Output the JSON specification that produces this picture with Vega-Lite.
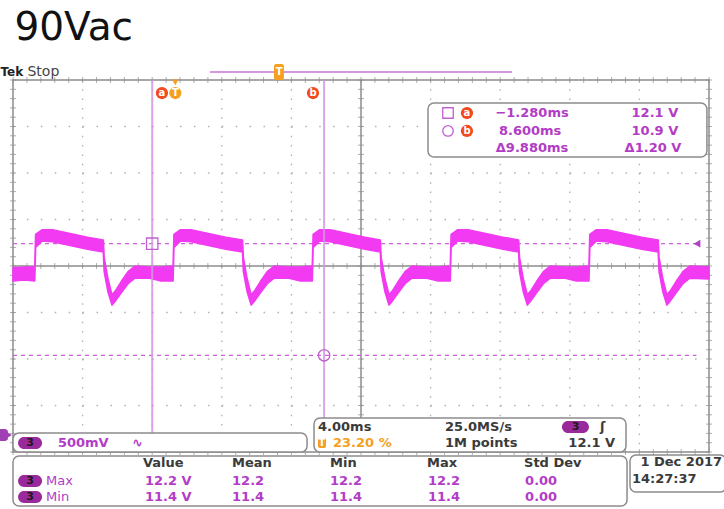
{
  "$schema": "https://vega.github.io/schema/vega-lite/v6.json",
  "width": 724,
  "height": 509,
  "autosize": {"type": "none"},
  "padding": 0,
  "background": "white",
  "config": {"view": {"stroke": null}},
  "datasets": {
    "wave": [
      {"t": -9.28, "hi": 11.84, "lo": 11.70}, {"t": -8.6, "hi": 11.85, "lo": 11.71}, {"t": -8.03, "hi": 11.85, "lo": 11.70},
      {"t": -7.98, "hi": 12.20, "lo": 12.06}, {"t": -7.6, "hi": 12.25, "lo": 12.13}, {"t": -7.0, "hi": 12.25, "lo": 12.12}, {"t": -6.0, "hi": 12.21, "lo": 12.08}, {"t": -5.0, "hi": 12.17, "lo": 12.04}, {"t": -4.09, "hi": 12.14, "lo": 12.01},
      {"t": -4.04, "hi": 11.95, "lo": 11.80}, {"t": -3.82, "hi": 11.72, "lo": 11.58}, {"t": -3.59, "hi": 11.55, "lo": 11.44}, {"t": -3.37, "hi": 11.60, "lo": 11.49}, {"t": -3.07, "hi": 11.69, "lo": 11.57}, {"t": -2.67, "hi": 11.80, "lo": 11.67}, {"t": -2.27, "hi": 11.86, "lo": 11.73}, {"t": -1.47, "hi": 11.85, "lo": 11.73}, {"t": -0.77, "hi": 11.85, "lo": 11.70}, {"t": -0.08, "hi": 11.86, "lo": 11.70},
      {"t": -0.03, "hi": 12.20, "lo": 12.06}, {"t": 0.35, "hi": 12.25, "lo": 12.13}, {"t": 0.95, "hi": 12.25, "lo": 12.12}, {"t": 1.95, "hi": 12.21, "lo": 12.08}, {"t": 2.95, "hi": 12.17, "lo": 12.04}, {"t": 3.91, "hi": 12.14, "lo": 12.01},
      {"t": 3.96, "hi": 11.95, "lo": 11.80}, {"t": 4.18, "hi": 11.72, "lo": 11.58}, {"t": 4.41, "hi": 11.55, "lo": 11.44}, {"t": 4.63, "hi": 11.60, "lo": 11.49}, {"t": 4.93, "hi": 11.69, "lo": 11.57}, {"t": 5.33, "hi": 11.80, "lo": 11.67}, {"t": 5.73, "hi": 11.86, "lo": 11.73}, {"t": 6.53, "hi": 11.85, "lo": 11.73}, {"t": 7.23, "hi": 11.85, "lo": 11.70}, {"t": 7.92, "hi": 11.86, "lo": 11.70},
      {"t": 7.97, "hi": 12.20, "lo": 12.06}, {"t": 8.35, "hi": 12.25, "lo": 12.13}, {"t": 8.95, "hi": 12.25, "lo": 12.12}, {"t": 9.95, "hi": 12.21, "lo": 12.08}, {"t": 10.95, "hi": 12.17, "lo": 12.04}, {"t": 11.83, "hi": 12.14, "lo": 12.01},
      {"t": 11.88, "hi": 11.95, "lo": 11.80}, {"t": 12.10, "hi": 11.72, "lo": 11.58}, {"t": 12.33, "hi": 11.55, "lo": 11.44}, {"t": 12.55, "hi": 11.60, "lo": 11.49}, {"t": 12.85, "hi": 11.69, "lo": 11.57}, {"t": 13.25, "hi": 11.80, "lo": 11.67}, {"t": 13.65, "hi": 11.86, "lo": 11.73}, {"t": 14.45, "hi": 11.85, "lo": 11.73}, {"t": 15.15, "hi": 11.85, "lo": 11.70}, {"t": 15.85, "hi": 11.86, "lo": 11.70},
      {"t": 15.90, "hi": 12.20, "lo": 12.06}, {"t": 16.28, "hi": 12.25, "lo": 12.13}, {"t": 16.88, "hi": 12.25, "lo": 12.12}, {"t": 17.88, "hi": 12.21, "lo": 12.08}, {"t": 18.88, "hi": 12.17, "lo": 12.04}, {"t": 19.78, "hi": 12.14, "lo": 12.01},
      {"t": 19.83, "hi": 11.95, "lo": 11.80}, {"t": 20.05, "hi": 11.72, "lo": 11.58}, {"t": 20.28, "hi": 11.55, "lo": 11.44}, {"t": 20.50, "hi": 11.60, "lo": 11.49}, {"t": 20.80, "hi": 11.69, "lo": 11.57}, {"t": 21.20, "hi": 11.80, "lo": 11.67}, {"t": 21.60, "hi": 11.86, "lo": 11.73}, {"t": 22.40, "hi": 11.85, "lo": 11.73}, {"t": 23.10, "hi": 11.85, "lo": 11.70}, {"t": 23.82, "hi": 11.86, "lo": 11.70},
      {"t": 23.87, "hi": 12.20, "lo": 12.06}, {"t": 24.25, "hi": 12.25, "lo": 12.13}, {"t": 24.85, "hi": 12.25, "lo": 12.12}, {"t": 25.85, "hi": 12.21, "lo": 12.08}, {"t": 26.85, "hi": 12.17, "lo": 12.04}, {"t": 27.80, "hi": 12.14, "lo": 12.01},
      {"t": 27.85, "hi": 11.95, "lo": 11.80}, {"t": 28.07, "hi": 11.72, "lo": 11.58}, {"t": 28.30, "hi": 11.55, "lo": 11.44}, {"t": 28.52, "hi": 11.60, "lo": 11.49}, {"t": 28.82, "hi": 11.69, "lo": 11.57}, {"t": 29.22, "hi": 11.80, "lo": 11.67}, {"t": 29.62, "hi": 11.86, "lo": 11.73}, {"t": 30.72, "hi": 11.85, "lo": 11.72}
    ],
    "xticks": [
      {"t": -9.28}, {"t": -8.48}, {"t": -7.68}, {"t": -6.88}, {"t": -6.08}, {"t": -5.28}, {"t": -4.48}, {"t": -3.68}, {"t": -2.88}, {"t": -2.08},
      {"t": -1.28}, {"t": -0.48}, {"t": 0.32}, {"t": 1.12}, {"t": 1.92}, {"t": 2.72}, {"t": 3.52}, {"t": 4.32}, {"t": 5.12}, {"t": 5.92},
      {"t": 6.72}, {"t": 7.52}, {"t": 8.32}, {"t": 9.12}, {"t": 9.92}, {"t": 10.72}, {"t": 11.52}, {"t": 12.32}, {"t": 13.12}, {"t": 13.92},
      {"t": 14.72}, {"t": 15.52}, {"t": 16.32}, {"t": 17.12}, {"t": 17.92}, {"t": 18.72}, {"t": 19.52}, {"t": 20.32}, {"t": 21.12}, {"t": 21.92},
      {"t": 22.72}, {"t": 23.52}, {"t": 24.32}, {"t": 25.12}, {"t": 25.92}, {"t": 26.72}, {"t": 27.52}, {"t": 28.32}, {"t": 29.12}, {"t": 29.92}, {"t": 30.72}
    ],
    "yticks": [
      {"v": 9.86}, {"v": 9.96}, {"v": 10.06}, {"v": 10.16}, {"v": 10.26}, {"v": 10.36}, {"v": 10.46}, {"v": 10.56}, {"v": 10.66}, {"v": 10.76},
      {"v": 10.86}, {"v": 10.96}, {"v": 11.06}, {"v": 11.16}, {"v": 11.26}, {"v": 11.36}, {"v": 11.46}, {"v": 11.56}, {"v": 11.66}, {"v": 11.76},
      {"v": 11.86}, {"v": 11.96}, {"v": 12.06}, {"v": 12.16}, {"v": 12.26}, {"v": 12.36}, {"v": 12.46}, {"v": 12.56}, {"v": 12.66}, {"v": 12.76},
      {"v": 12.86}, {"v": 12.96}, {"v": 13.06}, {"v": 13.16}, {"v": 13.26}, {"v": 13.36}, {"v": 13.46}, {"v": 13.56}, {"v": 13.66}, {"v": 13.76}, {"v": 13.86}
    ],
    "vgrid": [{"t": -5.28}, {"t": -1.28}, {"t": 2.72}, {"t": 6.72}, {"t": 14.72}, {"t": 18.72}, {"t": 22.72}, {"t": 26.72}],
    "hgrid": [{"v": 10.36}, {"v": 10.86}, {"v": 11.36}, {"v": 12.36}, {"v": 12.86}, {"v": 13.36}],
    "boxes": [
      {"t": 14.57, "t2": 30.60, "v": 13.613, "v2": 13.032},
      {"t": -9.28, "t2": 7.62, "v": 10.064, "v2": 9.860},
      {"t": 8.02, "t2": 25.95, "v": 10.226, "v2": 9.860},
      {"t": -9.28, "t2": 26.01, "v": 9.817, "v2": 9.279},
      {"t": 26.18, "t2": 31.70, "v": 9.828, "v2": 9.430}
    ],
    "pills": [
      {"t": -8.99, "t2": -7.61, "v": 10.021, "v2": 9.892},
      {"t": -8.99, "t2": -7.61, "v": 9.613, "v2": 9.484},
      {"t": -8.99, "t2": -7.61, "v": 9.441, "v2": 9.312},
      {"t": 22.27, "t2": 23.82, "v": 10.193, "v2": 10.064}
    ],
    "pillText": [
      {"t": -8.30, "v": 9.957, "s": "3"}, {"t": -8.30, "v": 9.548, "s": "3"}, {"t": -8.30, "v": 9.376, "s": "3"}, {"t": 23.05, "v": 10.129, "s": "3"}
    ],
    "orangeRects": [
      {"t": 5.72, "t2": 6.29, "v": 14.032, "v2": 13.86},
      {"t": 8.25, "t2": 8.71, "v": 10.011, "v2": 9.903}
    ],
    "whiteText": [
      {"t": -0.72, "v": 13.72, "s": "a"}, {"t": 7.96, "v": 13.72, "s": "b"}, {"t": 16.81, "v": 13.505, "s": "a"}, {"t": 16.81, "v": 13.312, "s": "b"},
      {"t": 0.05, "v": 13.72, "s": "T"}, {"t": 6.01, "v": 13.946, "s": "T"}, {"t": 8.48, "v": 9.957, "s": "T"}
    ],
    "grayText": [
      {"t": 8.25, "v": 10.129, "s": "4.00ms"}, {"t": 15.55, "v": 10.129, "s": "25.0MS/s"}, {"t": 15.55, "v": 9.957, "s": "1M points"},
      {"t": -1.81, "v": 9.742, "s": "Value"}, {"t": 3.31, "v": 9.742, "s": "Mean"}, {"t": 8.94, "v": 9.742, "s": "Min"}, {"t": 14.51, "v": 9.742, "s": "Max"}, {"t": 20.09, "v": 9.742, "s": "Std Dev"},
      {"t": 26.78, "v": 9.75, "s": "1 Dec 2017"}, {"t": 26.29, "v": 9.570, "s": "14:27:37"}, {"t": 24.45, "v": 10.129, "s": "ʃ"}
    ],
    "purpleText": [
      {"t": -6.70, "v": 9.957, "s": "500mV"}, {"t": -2.44, "v": 9.957, "s": "∿"},
      {"t": -1.70, "v": 9.548, "s": "12.2 V"}, {"t": -1.70, "v": 9.376, "s": "11.4 V"},
      {"t": 3.31, "v": 9.548, "s": "12.2"}, {"t": 3.31, "v": 9.376, "s": "11.4"},
      {"t": 8.94, "v": 9.548, "s": "12.2"}, {"t": 8.94, "v": 9.376, "s": "11.4"},
      {"t": 14.57, "v": 9.548, "s": "12.2"}, {"t": 14.57, "v": 9.376, "s": "11.4"},
      {"t": 20.15, "v": 9.548, "s": "0.00"}, {"t": 20.15, "v": 9.376, "s": "0.00"}
    ],
    "purpleLabels": [
      {"t": -7.38, "v": 9.548, "s": "Max"}, {"t": -7.38, "v": 9.376, "s": "Min"}
    ],
    "cursorText": [
      {"t": 20.55, "v": 13.505, "s": "−1.280ms"}, {"t": 20.44, "v": 13.312, "s": "8.600ms"}, {"t": 20.55, "v": 13.129, "s": "Δ9.880ms"},
      {"t": 27.61, "v": 13.505, "s": "12.1 V"}, {"t": 27.61, "v": 13.312, "s": "10.9 V"}, {"t": 27.50, "v": 13.129, "s": "Δ1.20 V"}
    ]
  },
  "layer": [
    {
      "data": {"name": "hgrid"},
      "mark": {"type": "rule", "color": "#b0b0b0", "strokeWidth": 1.3, "strokeDash": [1.5, 12.42]},
      "encoding": {
        "x": {"datum": -9.28, "type": "quantitative", "scale": {"domain": [-9.28, 30.72], "range": [13, 709], "nice": false, "zero": false}, "axis": null},
        "x2": {"datum": 30.72},
        "y": {"field": "v", "type": "quantitative", "scale": {"domain": [9.86, 13.86], "range": [452, 80], "nice": false, "zero": false}, "axis": null}
      }
    },
    {
      "data": {"name": "vgrid"},
      "mark": {"type": "rule", "color": "#b0b0b0", "strokeWidth": 1.3, "strokeDash": [1.5, 7.8]},
      "encoding": {
        "x": {"field": "t", "type": "quantitative", "scale": {"domain": [-9.28, 30.72], "range": [13, 709], "nice": false, "zero": false}, "axis": null},
        "y": {"datum": 13.86, "type": "quantitative", "scale": {"domain": [9.86, 13.86], "range": [452, 80], "nice": false, "zero": false}, "axis": null},
        "y2": {"datum": 9.86}
      }
    },
    {
      "data": {"values": [{}]},
      "mark": {"type": "rule", "color": "#8c8c8c", "strokeWidth": 1.5},
      "encoding": {
        "x": {"datum": 10.72, "type": "quantitative", "scale": {"domain": [-9.28, 30.72], "range": [13, 709], "nice": false, "zero": false}, "axis": null},
        "y": {"datum": 13.86, "type": "quantitative", "scale": {"domain": [9.86, 13.86], "range": [452, 80], "nice": false, "zero": false}, "axis": null},
        "y2": {"datum": 9.86}
      }
    },
    {
      "data": {"values": [{}]},
      "mark": {"type": "rule", "color": "#8c8c8c", "strokeWidth": 1.5},
      "encoding": {
        "x": {"datum": -9.28, "type": "quantitative", "scale": {"domain": [-9.28, 30.72], "range": [13, 709], "nice": false, "zero": false}, "axis": null},
        "x2": {"datum": 30.72},
        "y": {"datum": 11.86, "type": "quantitative", "scale": {"domain": [9.86, 13.86], "range": [452, 80], "nice": false, "zero": false}, "axis": null}
      }
    },
    {
      "data": {"values": [{}]},
      "mark": {"type": "rect", "fill": null, "fillOpacity": 0, "stroke": "#8c8c8c", "strokeWidth": 1.5},
      "encoding": {
        "x": {"datum": -9.28, "type": "quantitative", "scale": {"domain": [-9.28, 30.72], "range": [13, 709], "nice": false, "zero": false}, "axis": null},
        "x2": {"datum": 30.72},
        "y": {"datum": 13.86, "type": "quantitative", "scale": {"domain": [9.86, 13.86], "range": [452, 80], "nice": false, "zero": false}, "axis": null},
        "y2": {"datum": 9.86}
      }
    },
    {
      "data": {"name": "xticks"},
      "layer": [
        {"mark": {"type": "tick", "orient": "vertical", "size": 6, "thickness": 1, "color": "#8c8c8c"},
         "encoding": {"y": {"datum": 11.86, "type": "quantitative", "scale": {"domain": [9.86, 13.86], "range": [452, 80], "nice": false, "zero": false}, "axis": null}}},
        {"mark": {"type": "tick", "orient": "vertical", "size": 6, "thickness": 1, "color": "#8c8c8c"},
         "encoding": {"y": {"datum": 13.86, "type": "quantitative", "scale": {"domain": [9.86, 13.86], "range": [452, 80], "nice": false, "zero": false}, "axis": null}}},
        {"mark": {"type": "tick", "orient": "vertical", "size": 6, "thickness": 1, "color": "#8c8c8c"},
         "encoding": {"y": {"datum": 9.86, "type": "quantitative", "scale": {"domain": [9.86, 13.86], "range": [452, 80], "nice": false, "zero": false}, "axis": null}}}
      ],
      "encoding": {
        "x": {"field": "t", "type": "quantitative", "scale": {"domain": [-9.28, 30.72], "range": [13, 709], "nice": false, "zero": false}, "axis": null}
      }
    },
    {
      "data": {"name": "yticks"},
      "layer": [
        {"mark": {"type": "tick", "orient": "horizontal", "size": 6, "thickness": 1, "color": "#8c8c8c"},
         "encoding": {"x": {"datum": 10.72, "type": "quantitative", "scale": {"domain": [-9.28, 30.72], "range": [13, 709], "nice": false, "zero": false}, "axis": null}}},
        {"mark": {"type": "tick", "orient": "horizontal", "size": 6, "thickness": 1, "color": "#8c8c8c"},
         "encoding": {"x": {"datum": -9.28, "type": "quantitative", "scale": {"domain": [-9.28, 30.72], "range": [13, 709], "nice": false, "zero": false}, "axis": null}}},
        {"mark": {"type": "tick", "orient": "horizontal", "size": 6, "thickness": 1, "color": "#8c8c8c"},
         "encoding": {"x": {"datum": 30.72, "type": "quantitative", "scale": {"domain": [-9.28, 30.72], "range": [13, 709], "nice": false, "zero": false}, "axis": null}}}
      ],
      "encoding": {
        "y": {"field": "v", "type": "quantitative", "scale": {"domain": [9.86, 13.86], "range": [452, 80], "nice": false, "zero": false}, "axis": null}
      }
    },
    {
      "data": {"values": [{"v": 12.1}, {"v": 10.9}]},
      "mark": {"type": "rule", "color": "#c964d9", "strokeWidth": 1.3, "strokeDash": [4, 4]},
      "encoding": {
        "x": {"datum": -9.28, "type": "quantitative", "scale": {"domain": [-9.28, 30.72], "range": [13, 709], "nice": false, "zero": false}, "axis": null},
        "x2": {"datum": 30.0},
        "y": {"field": "v", "type": "quantitative", "scale": {"domain": [9.86, 13.86], "range": [452, 80], "nice": false, "zero": false}, "axis": null}
      }
    },
    {
      "data": {"name": "wave"},
      "mark": {"type": "area", "color": "#f23af2", "stroke": "#f23af2", "strokeWidth": 1.6, "strokeJoin": "round", "opacity": 1},
      "encoding": {
        "x": {"field": "t", "type": "quantitative", "scale": {"domain": [-9.28, 30.72], "range": [13, 709], "nice": false, "zero": false}, "axis": null},
        "y": {"field": "hi", "type": "quantitative", "scale": {"domain": [9.86, 13.86], "range": [452, 80], "nice": false, "zero": false}, "axis": null},
        "y2": {"field": "lo"}
      }
    },
    {
      "data": {"values": [{"t": -1.28}, {"t": 8.6}]},
      "mark": {"type": "rule", "color": "#d497e0", "strokeWidth": 2, "opacity": 0.85},
      "encoding": {
        "x": {"field": "t", "type": "quantitative", "scale": {"domain": [-9.28, 30.72], "range": [13, 709], "nice": false, "zero": false}, "axis": null},
        "y": {"datum": 13.86, "type": "quantitative", "scale": {"domain": [9.86, 13.86], "range": [452, 80], "nice": false, "zero": false}, "axis": null},
        "y2": {"datum": 9.86}
      }
    },
    {
      "data": {"values": [{"t": -1.28, "v": 12.1, "k": "square"}, {"t": 8.6, "v": 10.9, "k": "circle"}]},
      "mark": {"type": "point", "filled": false, "size": 130, "stroke": "#c060d0", "strokeWidth": 1.3, "opacity": 1},
      "encoding": {
        "x": {"field": "t", "type": "quantitative", "scale": {"domain": [-9.28, 30.72], "range": [13, 709], "nice": false, "zero": false}, "axis": null},
        "y": {"field": "v", "type": "quantitative", "scale": {"domain": [9.86, 13.86], "range": [452, 80], "nice": false, "zero": false}, "axis": null},
        "shape": {"field": "k", "type": "nominal", "scale": {"domain": ["square", "circle"], "range": ["square", "circle"]}, "legend": null}
      }
    },
    {
      "data": {"values": [{"t": 30.03, "v": 12.1}]},
      "mark": {"type": "point", "shape": "triangle-left", "filled": true, "size": 60, "color": "#b040c8", "opacity": 1},
      "encoding": {
        "x": {"field": "t", "type": "quantitative", "scale": {"domain": [-9.28, 30.72], "range": [13, 709], "nice": false, "zero": false}, "axis": null},
        "y": {"field": "v", "type": "quantitative", "scale": {"domain": [9.86, 13.86], "range": [452, 80], "nice": false, "zero": false}, "axis": null}
      }
    },
    {
      "data": {"values": [{"t": 2.04, "t2": 19.40, "v": 13.946}]},
      "mark": {"type": "rule", "color": "#d497e0", "strokeWidth": 2},
      "encoding": {
        "x": {"field": "t", "type": "quantitative", "scale": {"domain": [-9.28, 30.72], "range": [13, 709], "nice": false, "zero": false}, "axis": null},
        "x2": {"field": "t2"},
        "y": {"field": "v", "type": "quantitative", "scale": {"domain": [9.86, 13.86], "range": [452, 80], "nice": false, "zero": false}, "axis": null}
      }
    },
    {
      "data": {"name": "boxes"},
      "mark": {"type": "rect", "fill": "white", "stroke": "#8c8c8c", "strokeWidth": 1.5, "cornerRadius": 6},
      "encoding": {
        "x": {"field": "t", "type": "quantitative", "scale": {"domain": [-9.28, 30.72], "range": [13, 709], "nice": false, "zero": false}, "axis": null},
        "x2": {"field": "t2"},
        "y": {"field": "v", "type": "quantitative", "scale": {"domain": [9.86, 13.86], "range": [452, 80], "nice": false, "zero": false}, "axis": null},
        "y2": {"field": "v2"}
      }
    },
    {
      "data": {"values": [{"t": 15.72, "v": 13.505, "k": "square"}, {"t": 15.72, "v": 13.312, "k": "circle"}]},
      "mark": {"type": "point", "filled": false, "size": 110, "stroke": "#c060d0", "strokeWidth": 1.3, "opacity": 1},
      "encoding": {
        "x": {"field": "t", "type": "quantitative", "scale": {"domain": [-9.28, 30.72], "range": [13, 709], "nice": false, "zero": false}, "axis": null},
        "y": {"field": "v", "type": "quantitative", "scale": {"domain": [9.86, 13.86], "range": [452, 80], "nice": false, "zero": false}, "axis": null},
        "shape": {"field": "k", "type": "nominal", "scale": {"domain": ["square", "circle"], "range": ["square", "circle"]}, "legend": null}
      }
    },
    {
      "data": {"name": "pills"},
      "mark": {"type": "rect", "fill": "#9a2a9c", "cornerRadius": 6},
      "encoding": {
        "x": {"field": "t", "type": "quantitative", "scale": {"domain": [-9.28, 30.72], "range": [13, 709], "nice": false, "zero": false}, "axis": null},
        "x2": {"field": "t2"},
        "y": {"field": "v", "type": "quantitative", "scale": {"domain": [9.86, 13.86], "range": [452, 80], "nice": false, "zero": false}, "axis": null},
        "y2": {"field": "v2"}
      }
    },
    {
      "data": {"values": [{"t": -10.14, "t2": -9.57, "v": 10.107, "v2": 9.978}]},
      "mark": {"type": "rect", "fill": "#a040b4", "cornerRadius": 3},
      "encoding": {
        "x": {"field": "t", "type": "quantitative", "scale": {"domain": [-9.28, 30.72], "range": [13, 709], "nice": false, "zero": false}, "axis": null},
        "x2": {"field": "t2"},
        "y": {"field": "v", "type": "quantitative", "scale": {"domain": [9.86, 13.86], "range": [452, 80], "nice": false, "zero": false}, "axis": null},
        "y2": {"field": "v2"}
      }
    },
    {
      "data": {"values": [{"t": -9.5, "v": 10.043}]},
      "mark": {"type": "point", "shape": "triangle-right", "filled": true, "size": 40, "color": "#a040b4", "opacity": 1},
      "encoding": {
        "x": {"field": "t", "type": "quantitative", "scale": {"domain": [-9.28, 30.72], "range": [13, 709], "nice": false, "zero": false}, "axis": null},
        "y": {"field": "v", "type": "quantitative", "scale": {"domain": [9.86, 13.86], "range": [452, 80], "nice": false, "zero": false}, "axis": null}
      }
    },
    {
      "data": {"name": "orangeRects"},
      "mark": {"type": "rect", "fill": "#f5a020", "cornerRadius": 2},
      "encoding": {
        "x": {"field": "t", "type": "quantitative", "scale": {"domain": [-9.28, 30.72], "range": [13, 709], "nice": false, "zero": false}, "axis": null},
        "x2": {"field": "t2"},
        "y": {"field": "v", "type": "quantitative", "scale": {"domain": [9.86, 13.86], "range": [452, 80], "nice": false, "zero": false}, "axis": null},
        "y2": {"field": "v2"}
      }
    },
    {
      "data": {"values": [{"t": 0.05, "v": 13.835}]},
      "mark": {"type": "point", "shape": "triangle-down", "filled": true, "size": 45, "color": "#f5a020", "opacity": 1},
      "encoding": {
        "x": {"field": "t", "type": "quantitative", "scale": {"domain": [-9.28, 30.72], "range": [13, 709], "nice": false, "zero": false}, "axis": null},
        "y": {"field": "v", "type": "quantitative", "scale": {"domain": [9.86, 13.86], "range": [452, 80], "nice": false, "zero": false}, "axis": null}
      }
    },
    {
      "data": {"values": [{"t": 0.05, "v": 13.72}]},
      "mark": {"type": "point", "shape": "circle", "filled": true, "size": 150, "color": "#f5a020", "opacity": 1},
      "encoding": {
        "x": {"field": "t", "type": "quantitative", "scale": {"domain": [-9.28, 30.72], "range": [13, 709], "nice": false, "zero": false}, "axis": null},
        "y": {"field": "v", "type": "quantitative", "scale": {"domain": [9.86, 13.86], "range": [452, 80], "nice": false, "zero": false}, "axis": null}
      }
    },
    {
      "data": {"values": [{"t": -0.72, "v": 13.72}, {"t": 7.96, "v": 13.72}, {"t": 16.81, "v": 13.505}, {"t": 16.81, "v": 13.312}]},
      "mark": {"type": "point", "shape": "circle", "filled": true, "size": 150, "color": "#f04a1e", "opacity": 1},
      "encoding": {
        "x": {"field": "t", "type": "quantitative", "scale": {"domain": [-9.28, 30.72], "range": [13, 709], "nice": false, "zero": false}, "axis": null},
        "y": {"field": "v", "type": "quantitative", "scale": {"domain": [9.86, 13.86], "range": [452, 80], "nice": false, "zero": false}, "axis": null}
      }
    },
    {
      "data": {"name": "whiteText"},
      "mark": {"type": "text", "font": "DejaVu Sans", "fontWeight": "bold", "fontSize": 10, "color": "white", "align": "center", "baseline": "middle"},
      "encoding": {
        "x": {"field": "t", "type": "quantitative", "scale": {"domain": [-9.28, 30.72], "range": [13, 709], "nice": false, "zero": false}, "axis": null},
        "y": {"field": "v", "type": "quantitative", "scale": {"domain": [9.86, 13.86], "range": [452, 80], "nice": false, "zero": false}, "axis": null},
        "text": {"field": "s"}
      }
    },
    {
      "data": {"name": "pillText"},
      "mark": {"type": "text", "font": "DejaVu Sans", "fontWeight": "bold", "fontSize": 11, "color": "#1a1a1a", "align": "center", "baseline": "middle"},
      "encoding": {
        "x": {"field": "t", "type": "quantitative", "scale": {"domain": [-9.28, 30.72], "range": [13, 709], "nice": false, "zero": false}, "axis": null},
        "y": {"field": "v", "type": "quantitative", "scale": {"domain": [9.86, 13.86], "range": [452, 80], "nice": false, "zero": false}, "axis": null},
        "text": {"field": "s"}
      }
    },
    {
      "data": {"name": "grayText"},
      "mark": {"type": "text", "font": "DejaVu Sans", "fontWeight": "bold", "fontSize": 13, "color": "#3a3a3a", "align": "left", "baseline": "middle"},
      "encoding": {
        "x": {"field": "t", "type": "quantitative", "scale": {"domain": [-9.28, 30.72], "range": [13, 709], "nice": false, "zero": false}, "axis": null},
        "y": {"field": "v", "type": "quantitative", "scale": {"domain": [9.86, 13.86], "range": [452, 80], "nice": false, "zero": false}, "axis": null},
        "text": {"field": "s"}
      }
    },
    {
      "data": {"values": [{"t": 25.32, "v": 9.957, "s": "12.1 V"}]},
      "mark": {"type": "text", "font": "DejaVu Sans", "fontWeight": "bold", "fontSize": 13, "color": "#3a3a3a", "align": "right", "baseline": "middle"},
      "encoding": {
        "x": {"field": "t", "type": "quantitative", "scale": {"domain": [-9.28, 30.72], "range": [13, 709], "nice": false, "zero": false}, "axis": null},
        "y": {"field": "v", "type": "quantitative", "scale": {"domain": [9.86, 13.86], "range": [452, 80], "nice": false, "zero": false}, "axis": null},
        "text": {"field": "s"}
      }
    },
    {
      "data": {"values": [{"t": 9.11, "v": 9.957, "s": "23.20 %"}]},
      "mark": {"type": "text", "font": "DejaVu Sans", "fontWeight": "bold", "fontSize": 13, "color": "#f5a020", "align": "left", "baseline": "middle"},
      "encoding": {
        "x": {"field": "t", "type": "quantitative", "scale": {"domain": [-9.28, 30.72], "range": [13, 709], "nice": false, "zero": false}, "axis": null},
        "y": {"field": "v", "type": "quantitative", "scale": {"domain": [9.86, 13.86], "range": [452, 80], "nice": false, "zero": false}, "axis": null},
        "text": {"field": "s"}
      }
    },
    {
      "data": {"name": "purpleText"},
      "mark": {"type": "text", "font": "DejaVu Sans", "fontWeight": "bold", "fontSize": 13, "color": "#b23cc6", "align": "left", "baseline": "middle"},
      "encoding": {
        "x": {"field": "t", "type": "quantitative", "scale": {"domain": [-9.28, 30.72], "range": [13, 709], "nice": false, "zero": false}, "axis": null},
        "y": {"field": "v", "type": "quantitative", "scale": {"domain": [9.86, 13.86], "range": [452, 80], "nice": false, "zero": false}, "axis": null},
        "text": {"field": "s"}
      }
    },
    {
      "data": {"name": "purpleLabels"},
      "mark": {"type": "text", "font": "DejaVu Sans", "fontSize": 13, "color": "#b23cc6", "align": "left", "baseline": "middle"},
      "encoding": {
        "x": {"field": "t", "type": "quantitative", "scale": {"domain": [-9.28, 30.72], "range": [13, 709], "nice": false, "zero": false}, "axis": null},
        "y": {"field": "v", "type": "quantitative", "scale": {"domain": [9.86, 13.86], "range": [452, 80], "nice": false, "zero": false}, "axis": null},
        "text": {"field": "s"}
      }
    },
    {
      "data": {"name": "cursorText"},
      "mark": {"type": "text", "font": "DejaVu Sans", "fontWeight": "bold", "fontSize": 13, "color": "#b23cc6", "align": "center", "baseline": "middle"},
      "encoding": {
        "x": {"field": "t", "type": "quantitative", "scale": {"domain": [-9.28, 30.72], "range": [13, 709], "nice": false, "zero": false}, "axis": null},
        "y": {"field": "v", "type": "quantitative", "scale": {"domain": [9.86, 13.86], "range": [452, 80], "nice": false, "zero": false}, "axis": null},
        "text": {"field": "s"}
      }
    },
    {
      "data": {"values": [{"t": -10.0, "v": 13.946, "s": "Tek"}]},
      "mark": {"type": "text", "font": "DejaVu Sans", "fontWeight": "bold", "fontSize": 12, "color": "#222222", "align": "left", "baseline": "middle"},
      "encoding": {
        "x": {"field": "t", "type": "quantitative", "scale": {"domain": [-9.28, 30.72], "range": [13, 709], "nice": false, "zero": false}, "axis": null},
        "y": {"field": "v", "type": "quantitative", "scale": {"domain": [9.86, 13.86], "range": [452, 80], "nice": false, "zero": false}, "axis": null},
        "text": {"field": "s"}
      }
    },
    {
      "data": {"values": [{"t": -8.45, "v": 13.946, "s": "Stop"}]},
      "mark": {"type": "text", "font": "DejaVu Sans", "fontSize": 14, "color": "#444444", "align": "left", "baseline": "middle"},
      "encoding": {
        "x": {"field": "t", "type": "quantitative", "scale": {"domain": [-9.28, 30.72], "range": [13, 709], "nice": false, "zero": false}, "axis": null},
        "y": {"field": "v", "type": "quantitative", "scale": {"domain": [9.86, 13.86], "range": [452, 80], "nice": false, "zero": false}, "axis": null},
        "text": {"field": "s"}
      }
    },
    {
      "data": {"values": [{"t": -9.20, "v": 14.29, "s": "90Vac"}]},
      "mark": {"type": "text", "font": "DejaVu Sans", "fontSize": 39, "color": "#111111", "align": "left", "baseline": "alphabetic"},
      "encoding": {
        "x": {"field": "t", "type": "quantitative", "scale": {"domain": [-9.28, 30.72], "range": [13, 709], "nice": false, "zero": false}, "axis": null},
        "y": {"field": "v", "type": "quantitative", "scale": {"domain": [9.86, 13.86], "range": [452, 80], "nice": false, "zero": false}, "axis": null},
        "text": {"field": "s"}
      }
    }
  ]
}
